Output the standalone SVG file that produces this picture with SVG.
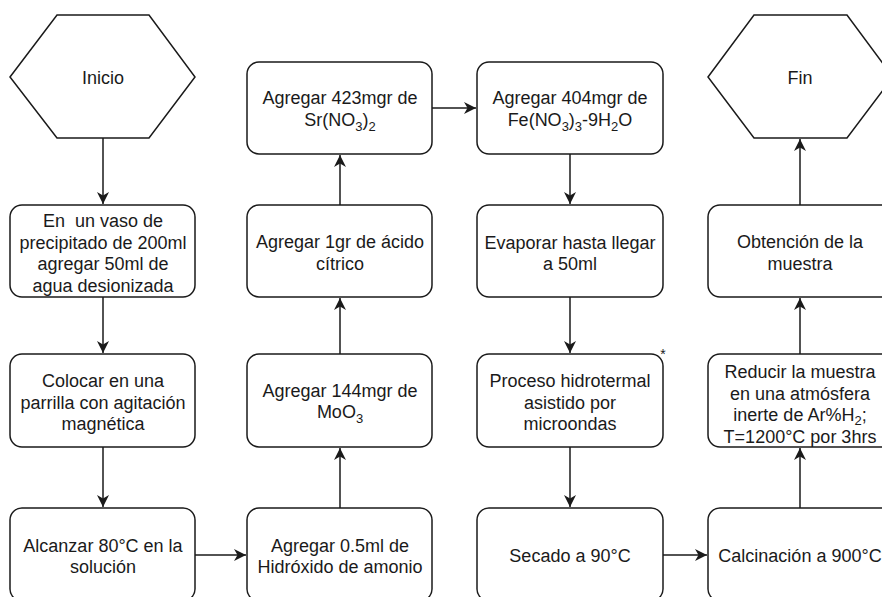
<svg xmlns="http://www.w3.org/2000/svg" width="882" height="597" viewBox="0 0 882 597">
  <style>
    .shape { fill: #ffffff; stroke: #1a1a1a; stroke-width: 1.5; }
    .edge { fill: none; stroke: #1a1a1a; stroke-width: 1.5; }
    text { font-family: "Liberation Sans", Arial, Helvetica, sans-serif; font-size: 18px; fill: #1a1a1a; text-anchor: middle; }
    .sub { font-size: 13px; }
    .note { font-size: 14px; }
  </style>
  <defs>
    <marker id="arrow" viewBox="0 0 13 13" refX="12" refY="6.5" markerWidth="13" markerHeight="13" markerUnits="userSpaceOnUse" orient="auto">
      <path d="M12,6.5 L0,0.5 L3.5,6.5 L0,12.5 Z" fill="#1a1a1a"/>
    </marker>
  </defs>

  <rect width="882" height="597" fill="#ffffff"/>

  <!-- connectors -->
  <g id="connectors">
    <path class="edge" d="M103,138 L103,204" marker-end="url(#arrow)"/>
    <path class="edge" d="M103,297 L103,353" marker-end="url(#arrow)"/>
    <path class="edge" d="M103,447 L103,507" marker-end="url(#arrow)"/>
    <path class="edge" d="M195,555 L246,555" marker-end="url(#arrow)"/>
    <path class="edge" d="M340,508 L340,448" marker-end="url(#arrow)"/>
    <path class="edge" d="M340,354 L340,298" marker-end="url(#arrow)"/>
    <path class="edge" d="M340,205 L340,155" marker-end="url(#arrow)"/>
    <path class="edge" d="M432,108 L476,108" marker-end="url(#arrow)"/>
    <path class="edge" d="M570,154 L570,204" marker-end="url(#arrow)"/>
    <path class="edge" d="M570,297 L570,353" marker-end="url(#arrow)"/>
    <path class="edge" d="M570,447 L570,507" marker-end="url(#arrow)"/>
    <path class="edge" d="M663,555 L707,555" marker-end="url(#arrow)"/>
    <path class="edge" d="M800,508 L800,448" marker-end="url(#arrow)"/>
    <path class="edge" d="M800,354 L800,298" marker-end="url(#arrow)"/>
    <path class="edge" d="M800,205 L800,139" marker-end="url(#arrow)"/>
  </g>

  <!-- column 1 -->
  <g id="inicio">
    <polygon class="shape" points="10,77 57,15 149,15 195,77 149,138 57,138"/>
    <text x="103" y="84">Inicio</text>
  </g>
  <g id="vaso">
    <rect class="shape" x="10" y="205" width="185" height="92" rx="12"/>
    <text x="103" y="227" xml:space="preserve">En  un vaso de</text>
    <text x="103" y="248.7">precipitado de 200ml</text>
    <text x="103" y="270.4">agregar 50ml de</text>
    <text x="103" y="292.1">agua desionizada</text>
  </g>
  <g id="parrilla">
    <rect class="shape" x="10" y="354" width="185" height="93" rx="12"/>
    <text x="103" y="387">Colocar en una</text>
    <text x="103" y="408.5">parrilla con agitación</text>
    <text x="103" y="430">magnética</text>
  </g>
  <g id="alcanzar">
    <rect class="shape" x="10" y="508" width="185" height="93" rx="12"/>
    <text x="103" y="551.5">Alcanzar 80°C en la</text>
    <text x="103" y="573">solución</text>
  </g>

  <!-- column 2 -->
  <g id="hidroxido">
    <rect class="shape" x="247" y="508" width="185" height="93" rx="12"/>
    <text x="340" y="551.5">Agregar 0.5ml de</text>
    <text x="340" y="573">Hidróxido de amonio</text>
  </g>
  <g id="moo3">
    <rect class="shape" x="247" y="354" width="185" height="93" rx="12"/>
    <text x="340" y="396.5">Agregar 144mgr de</text>
    <text x="340" y="418">MoO<tspan class="sub" dy="5">3</tspan></text>
  </g>
  <g id="citrico">
    <rect class="shape" x="247" y="205" width="185" height="92" rx="12"/>
    <text x="340" y="248">Agregar 1gr de ácido</text>
    <text x="340" y="269.7">cítrico</text>
  </g>
  <g id="sr">
    <rect class="shape" x="247" y="62" width="185" height="92" rx="12"/>
    <text x="340" y="103.5">Agregar 423mgr de</text>
    <text x="340" y="125.5">Sr(NO<tspan class="sub" dy="5">3</tspan><tspan dy="-5">)</tspan><tspan class="sub" dy="5">2</tspan></text>
  </g>

  <!-- column 3 -->
  <g id="fe">
    <rect class="shape" x="477" y="62" width="186" height="92" rx="12"/>
    <text x="570" y="103.5">Agregar 404mgr de</text>
    <text x="570" y="125.5">Fe(NO<tspan class="sub" dy="5">3</tspan><tspan dy="-5">)</tspan><tspan class="sub" dy="5">3</tspan><tspan dy="-5">-9H</tspan><tspan class="sub" dy="5">2</tspan><tspan dy="-5">O</tspan></text>
  </g>
  <g id="evaporar">
    <rect class="shape" x="477" y="205" width="186" height="92" rx="12"/>
    <text x="570" y="248.5">Evaporar hasta llegar</text>
    <text x="570" y="270">a 50ml</text>
  </g>
  <g id="hidrotermal">
    <rect class="shape" x="477" y="354" width="186" height="93" rx="12"/>
    <text x="570" y="387">Proceso hidrotermal</text>
    <text x="570" y="408.5">asistido por</text>
    <text x="570" y="430">microondas</text>
    <text class="note" x="663" y="359">*</text>
  </g>
  <g id="secado">
    <rect class="shape" x="477" y="508" width="186" height="93" rx="12"/>
    <text x="570" y="561.5">Secado a 90°C</text>
  </g>

  <!-- column 4 -->
  <g id="calcinacion">
    <rect class="shape" x="708" y="508" width="185" height="93" rx="12"/>
    <text x="800" y="561.5">Calcinación a 900°C</text>
  </g>
  <g id="reducir">
    <rect class="shape" x="708" y="354" width="185" height="93" rx="12"/>
    <text x="800" y="378">Reducir la muestra</text>
    <text x="800" y="399.7">en una atmósfera</text>
    <text x="800" y="421">inerte de Ar%H<tspan class="sub" dy="3.5">2</tspan><tspan dy="-3.5">;</tspan></text>
    <text x="800" y="443.3">T=1200°C por 3hrs</text>
  </g>
  <g id="obtencion">
    <rect class="shape" x="708" y="205" width="185" height="92" rx="12"/>
    <text x="800" y="248">Obtención de la</text>
    <text x="800" y="269.7">muestra</text>
  </g>
  <g id="fin">
    <polygon class="shape" points="708,77 754,15 847,15 893,77 847,138 754,138"/>
    <text x="800" y="84">Fin</text>
  </g>
</svg>
